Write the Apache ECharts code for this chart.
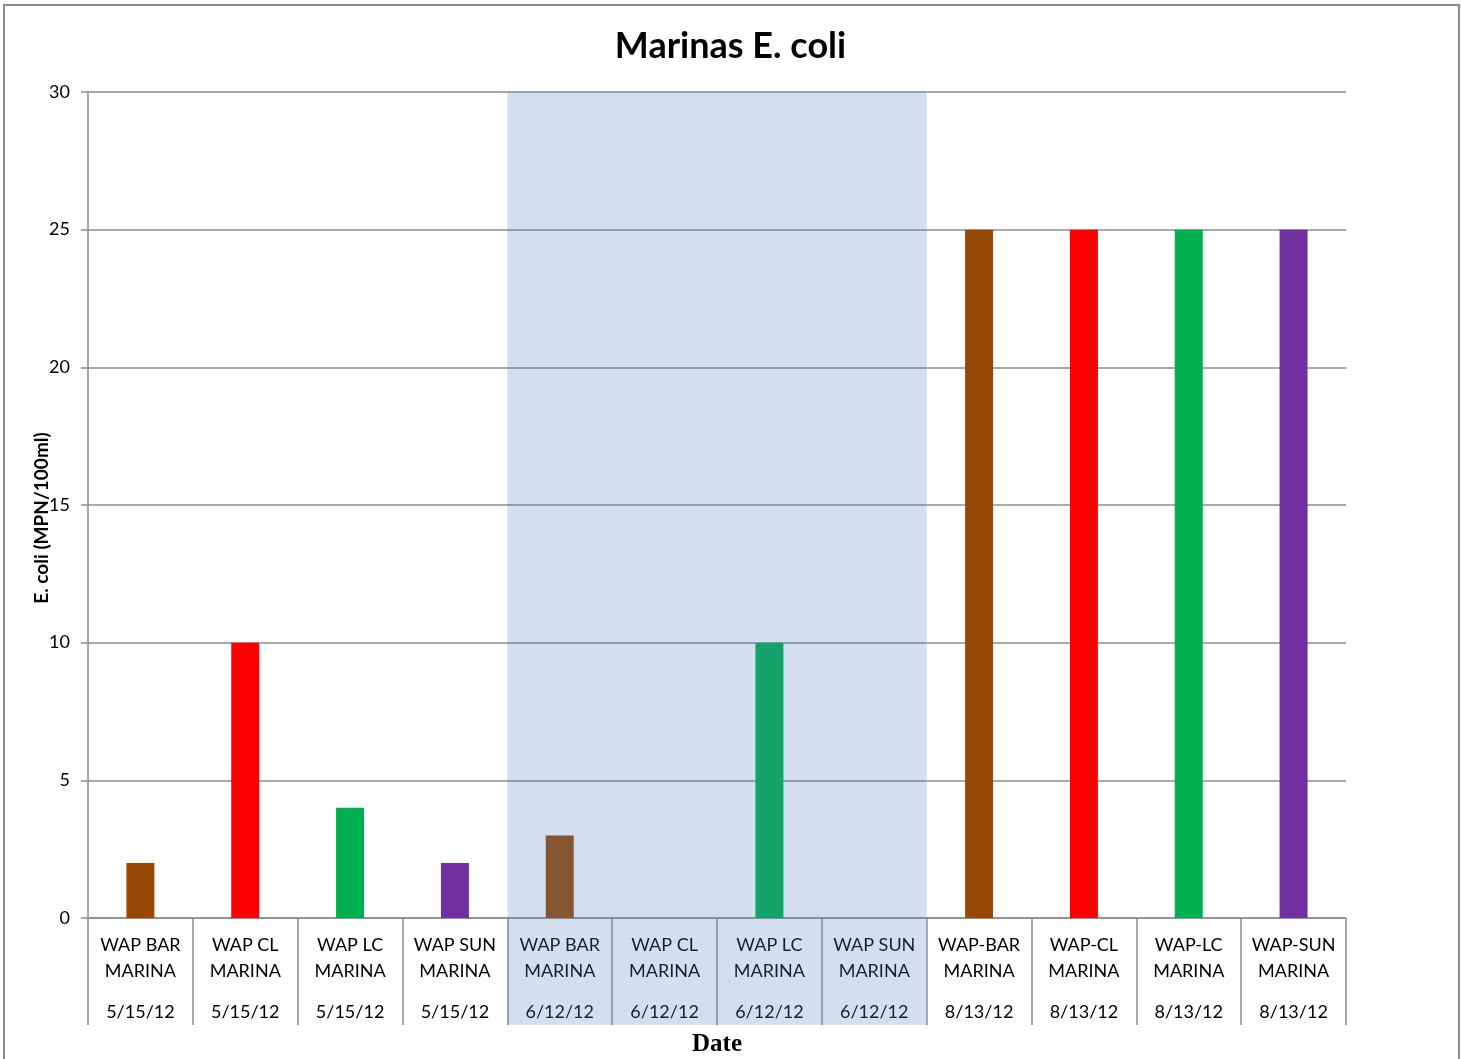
<!DOCTYPE html>
<html>
<head>
<meta charset="utf-8">
<script src="https://cdn.jsdelivr.net/npm/echarts@6/dist/echarts.min.js"></script>
<style>
html,body{margin:0;padding:0;background:#fff;}
#main{width:1461px;height:1059px;}
</style>
</head>
<body>
<div id="main"></div>
<script>
//站点名称与日期
var sites=["WAP BAR\nMARINA","WAP CL\nMARINA","WAP LC\nMARINA","WAP SUN\nMARINA",
	"WAP BAR\nMARINA","WAP CL\nMARINA","WAP LC\nMARINA","WAP SUN\nMARINA",
	"WAP-BAR\nMARINA","WAP-CL\nMARINA","WAP-LC\nMARINA","WAP-SUN\nMARINA"];
var dates=["5/15/12","5/15/12","5/15/12","5/15/12","6/12/12","6/12/12","6/12/12","6/12/12",
	"8/13/12","8/13/12","8/13/12","8/13/12"];
//E. coli 数值
var ecoli=[2,10,4,2,3,null,10,null,25,25,25,25];
var barColors=["#984807","#FF0000","#00B050","#7030A0","#984807","#FF0000","#00B050","#7030A0",
	"#984807","#FF0000","#00B050","#7030A0"];
var yTicks={min:0,max:30,interval:5};
//阴影区间(6/12/12)
var shadeFrom=4, shadeTo=7;

var font="Lato, 'Noto Sans', sans-serif";
var tickLen=107;

var categories=[];
for(var i=0;i<sites.length;i++){
	categories.push(i);
}
var barData=[];
for(var i=0;i<ecoli.length;i++){
	barData.push({value:ecoli[i]==null?'-':ecoli[i],itemStyle:{color:barColors[i]}});
}

var myChart=echarts.init(document.getElementById('main'));
var option={
	animation:false,
	backgroundColor:'#fff',
	title:{
		text:'Marinas E. coli',
		left:'center',
		top:23,
		textStyle:{fontFamily:font,fontWeight:'bold',fontSize:36,color:'#000'}
	},
	grid:{left:88,right:115,top:92,bottom:141,outerBoundsMode:'none',containLabel:false},
	xAxis:{
		type:'category',
		data:categories,
		name:'Date',
		nameLocation:'middle',
		nameGap:114,
		nameMoveOverlap:false,
		nameTextStyle:{fontFamily:"'Liberation Serif', 'DejaVu Serif', serif",fontWeight:'bold',fontSize:25,color:'#000'},
		axisLine:{lineStyle:{color:'#8c8c8c',width:1.5}},
		axisTick:{show:true,length:tickLen,interval:0,lineStyle:{color:'#8c8c8c',width:1.5}},
		axisLabel:{
			interval:0,
			margin:14,
			formatter:function(v,idx){
				var p=sites[idx].split("\n");
				return '{a|'+p[0]+'}\n{a|'+p[1]+'}\n{d|'+dates[idx]+'}';
			},
			rich:{
				a:{fontFamily:font,fontSize:18,color:'#000',lineHeight:26},
				d:{fontFamily:font,fontSize:18,color:'#000',lineHeight:56}
			}
		}
	},
	yAxis:{
		type:'value',
		min:yTicks.min,max:yTicks.max,interval:yTicks.interval,
		name:'E. coli (MPN/100ml)',
		nameLocation:'middle',
		nameGap:37,
		nameMoveOverlap:false,
		nameTextStyle:{fontFamily:font,fontWeight:'bold',fontSize:19,color:'#000',padding:[0,0,0,-26]},
		axisLine:{show:true,lineStyle:{color:'#8c8c8c',width:1.5}},
		axisTick:{show:true,length:7,lineStyle:{color:'#8c8c8c',width:1.5}},
		axisLabel:{fontFamily:font,fontSize:18,color:'#000',margin:18},
		splitLine:{lineStyle:{color:'#8c8c8c',width:1.5}}
	},
	series:[{
		type:'bar',
		barWidth:28,
		data:barData
	}]
};
myChart.setOption(option);

//阴影覆盖层, 用坐标轴换算位置
var c1=myChart.convertToPixel({xAxisIndex:0},shadeFrom);
var c2=myChart.convertToPixel({xAxisIndex:0},shadeTo);
var c0=myChart.convertToPixel({xAxisIndex:0},shadeFrom+1);
var bw=c0-c1;
var yTop=myChart.convertToPixel({yAxisIndex:0},yTicks.max);
var yBot=myChart.convertToPixel({yAxisIndex:0},yTicks.min);
myChart.setOption({
	graphic:[
		{type:'rect',z:100,silent:true,
			shape:{x:c1-bw/2,y:yTop,width:(c2-c1)+bw,height:(yBot-yTop)+tickLen},
			style:{fill:'rgba(79,129,189,0.25)'}},
		{type:'rect',z:100,silent:true,
			shape:{x:4,y:5,width:1455,height:1060},
			style:{fill:'none',stroke:'#8c8c8c',lineWidth:2}}
	]
});
</script>
</body>
</html>
